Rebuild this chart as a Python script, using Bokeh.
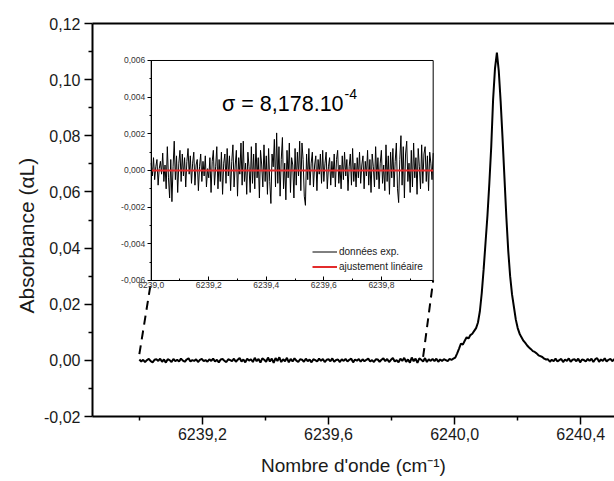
import numpy as np
from bokeh.plotting import figure
from bokeh.models import (Range1d, LinearAxis, FixedTicker, CustomJSTickFormatter,
                          Label, Legend, LegendItem, Title)
from bokeh.embed import file_html
from bokeh.resources import INLINE

# ---------------- data ----------------
# main spectrum: absorbance in units of 1e-5, sampled every 0.006 cm-1 from 6239.0
main_start = 6239.0
main_step = 0.006
absorbance_1e5 = [
    30, -40, 20, -60, 10, 50, -30, -70, 20, 40,
    -20, 60, -50, 30, -80, 40, 10, -60, 50, -30,
    20, -40, 60, -10, -50, 30, 70, -40, 10, -20,
    40, -60, 20, 50, -30, 10, -50, 40, -20, 60,
    -40, 20, -70, 30, 50, -20, -60, 40, 10, -30,
    60, -50, 20, 80, -40, 30, -70, 60, -10, 40,
    -60, 90, -30, 50, -80, 70, 20, -50, 100, -40,
    60, -90, 80, -20, 110, -60, 40, -30, 90, -70,
    50, -40, 70, -10, -60, 40, 20, -50, 60, -30,
    30, -70, 40, 10, -40, 60, -20, 50, -60, 20,
    40, -30, 70, -50, 10, 30, -60, 40, -20, 50,
    -40, 20, 60, -70, 30, -10, 50, -50, 40, -30,
    20, 60, -40, 10, -60, 40, 30, -50, 20, 70,
    -30, 50, -60, 20, 80, -40, 10, -70, 60, -20,
    90, -50, 30, -80, 100, -30, 60, -90, 70, 20,
    -40, 80, -60, 40, -20, 50, -30, 60, -50, 30,
    -20, 40, 10, -30, 50, 20, 60,
    100, 250, 420, 600, 560, 700, 820, 780, 900, 950,
    1050, 1150, 1350, 1750, 2400, 3250, 4200, 5150, 6300, 7600,
    9300, 10400, 10960, 10300, 9200, 7900, 6500, 5100, 3900, 3000,
    2350, 1900, 1450, 1150, 950, 820, 700, 620, 530, 460,
    400, 330, 300, 250, 180, 150, 120, 60, 30,
    40, -50, 20, -30, 60, -40, 10, 50, -60, 30,
    -20, 70, -50, 20, 40, -30, 60, -70, 30, 10,
    -40, 50, -20, 60, -60, 40, 80, -50, 30, -20,
    70, -40, 20, 50, -30, 40, -10,
]

# inset: residual (data - linear fit) in units of 1e-5, every 0.004 cm-1 from 6239.0
resid_start = 6239.0
resid_step = 0.004
residual_1e5 = [
    40, -30, 70, -50, 20, 60, -80, 10, 50, -20,
    95, -60, 30, -100, 130, -40, -150, 60, -170, 20,
    160, -50, 80, -120, 40, 110, -60, 90, -30, 70,
    -90, 50, 120, -20, 80, -70, 40, 100, -80, 30,
    60, -110, 20, 90, -60, 50, -30, 80, -90, 10,
    -40, 70, -120, 50, 110, -80, 20, 130, -100, 60,
    -60, 100, -130, 40, 90, -70, 120, -30, 80, -110,
    50, 140, -90, 30, 110, -140, 70, -20, 150, -80,
    160, -60, 40, -130, 100, 20, -120, 130, -70, 90,
    -100, 150, -40, 70, -150, 110, 30, -90, 140, -60,
    80, -130, 120, -60, -180, 90, 20, 170, -90, 205,
    -70, 130, -140, 60, 180, -100, 40, -160, 110, -40,
    150, -120, 70, 30, -150, 120, -80, 100, -30, 160,
    -110, 150, 60, -140, -190, 90, -50, 120, -80, 40,
    100, -90, 30, 80, -110, 60, -20, 90, -70, 110,
    -60, 40, 100, -100, 20, 70, -80, 50, -40, 90,
    -90, 60, 110, -70, 30, -100, 80, -50, 100, -30,
    60, -110, 20, 90, -80, 120, -60, 40, -90, 70,
    -40, 100, -70, 30, 80, -100, 50, -30, 110, -80,
    60, -120, 90, 20, -90, 130, -50, 70, -100, 40,
    110, -70, 30, -110, 140, -60, 80, -130, 100, -40,
    120, -90, 50, 150, -100, -175, 60, 190, -80, 130,
    -150, 90, 160, -60, 40, -120, 110, -90, 150, -40,
    70, -130, 120, 20, -100, 140, -70, 90, 130, -60,
    80, -110, 100, 40, -50, 95,
]

fit_wn = [6239.0, 6239.98]        # linear fit (ajustement linéaire)
fit_val = [0.0, 0.0]
zoom_wn = [6239.0, 6239.9]        # zoomed region of the main spectrum

main_xticks = [6239.2, 6239.6, 6240.0, 6240.4]
main_xminor = [6239.0, 6239.4, 6239.8, 6240.2]
main_yticks = [-0.02, 0.0, 0.02, 0.04, 0.06, 0.08, 0.10, 0.12]
main_yminor = [-0.01, 0.01, 0.03, 0.05, 0.07, 0.09, 0.11]
inset_xticks = [6239.0, 6239.2, 6239.4, 6239.6, 6239.8]
inset_xminor = [6239.1, 6239.3, 6239.5, 6239.7, 6239.9]
inset_yticks = [-0.006, -0.004, -0.002, 0.0, 0.002, 0.004, 0.006]
inset_yminor = [-0.005, -0.003, -0.001, 0.001, 0.003, 0.005]

x_title = "Nombre d'onde (cm⁻¹)"
y_title = "Absorbance (αL)"
sigma_text = "σ = 8,178.10"
sigma_exp = "-4"

# ---------------- layout constants ----------------
MAIN_X = (6238.8514, 6240.507)
MAIN_Y = (-0.02, 0.12)
INSET_X = (6239.0, 6239.98)
INSET_Y = (-0.006, 0.006)
# inset frame corners expressed in main-plot coordinates
BOX_L, BOX_R, BOX_B, BOX_T = 6239.0376, 6239.9319, 0.02845, 0.10682
ZOOM_Y0 = [0.0022, 0.0012]

x_main = np.round(main_start + main_step * np.arange(len(absorbance_1e5)), 4)
y_main = np.array(absorbance_1e5) * 1e-5
x_res = np.round(resid_start + resid_step * np.arange(len(residual_1e5)), 4)
y_res = np.array(residual_1e5) * 1e-5

kx = (INSET_X[1] - INSET_X[0]) / (BOX_R - BOX_L)
ky = (INSET_Y[1] - INSET_Y[0]) / (BOX_T - BOX_B)
ix_range = Range1d(INSET_X[0] + (MAIN_X[0] - BOX_L) * kx, INSET_X[0] + (MAIN_X[1] - BOX_L) * kx)
iy_range = Range1d(INSET_Y[0] + (MAIN_Y[0] - BOX_B) * ky, INSET_Y[0] + (MAIN_Y[1] - BOX_B) * ky)

FONT = "Liberation Sans"
TXT = "#1a1a1a"

p = figure(width=614, height=481, output_backend="svg", toolbar_location=None,
           x_range=Range1d(*MAIN_X), y_range=Range1d(*MAIN_Y),
           min_border_left=92, min_border_right=0, min_border_top=23, min_border_bottom=65,
           x_axis_label=x_title)
p.extra_x_ranges = {"ix": ix_range}
p.extra_y_ranges = {"iy": iy_range}
p.outline_line_color = None
p.grid.visible = False
p.background_fill_color = "white"
p.border_fill_color = "white"

fmt1 = CustomJSTickFormatter(code="return tick.toFixed(1).replace('.', ',');")
fmt2 = CustomJSTickFormatter(code="var v = Math.abs(tick) < 1e-9 ? 0 : tick; return v.toFixed(2).replace('.', ',');")
fmt3 = CustomJSTickFormatter(code="var v = Math.abs(tick) < 1e-9 ? 0 : tick; return v.toFixed(3).replace('.', ',');")

xa = p.xaxis[0]
ya = p.yaxis[0]
xa.ticker = FixedTicker(ticks=main_xticks, minor_ticks=main_xminor)
ya.ticker = FixedTicker(ticks=main_yticks, minor_ticks=main_yminor)
xa.formatter = fmt1
ya.formatter = fmt2
for ax in (xa, ya):
    ax.axis_line_width = 2
    ax.axis_line_color = "black"
    ax.major_tick_line_width = 1.5
    ax.minor_tick_line_width = 1.5
    ax.major_tick_out = 8
    ax.major_tick_in = 0
    ax.minor_tick_out = 4
    ax.minor_tick_in = 0
    ax.major_label_text_font = FONT
    ax.major_label_text_font_size = "16px"
    ax.major_label_text_color = TXT
    ax.axis_label_text_font = FONT
    ax.axis_label_text_font_style = "normal"
    ax.axis_label_text_color = TXT
xa.axis_label_text_font_size = "19px"
xa.major_label_standoff = 3
xa.axis_label_standoff = 12
ya.major_label_standoff = 4

top = LinearAxis(ticker=FixedTicker(ticks=[]), axis_line_width=2, axis_line_color="black",
                 major_tick_out=0, major_tick_in=0, minor_tick_out=0, minor_tick_in=0)
p.add_layout(top, "above")

# y-axis title, placed a little below the frame centre as in the original
p.add_layout(Title(text=y_title, align="left", offset=103, vertical_align="middle",
                   standoff=6, text_font=FONT, text_font_size="21px",
                   text_font_style="normal", text_color=TXT), "left")

# main spectrum
p.line(x_main, y_main, line_color="black", line_width=2)

# dashed connectors from zoom region to inset corners
p.segment(x0=zoom_wn, y0=ZOOM_Y0, x1=[BOX_L, BOX_R], y1=[BOX_B, BOX_B],
          line_color="black", line_width=2, line_dash="9 6")

# inset frame
p.quad(left=[INSET_X[0]], right=[INSET_X[1]], bottom=[INSET_Y[0]], top=[INSET_Y[1]],
       x_range_name="ix", y_range_name="iy",
       fill_color="white", line_color="black", line_width=1)

r_data = p.line(x_res, y_res, x_range_name="ix", y_range_name="iy",
                line_color="black", line_width=1)
r_fit = p.line(fit_wn, fit_val, x_range_name="ix", y_range_name="iy",
               line_color="#e32b2b", line_width=2)

ixa = LinearAxis(x_range_name="ix", y_range_name="iy", fixed_location=INSET_Y[0],
                 bounds=INSET_X, ticker=FixedTicker(ticks=inset_xticks, minor_ticks=inset_xminor),
                 formatter=fmt1)
iya = LinearAxis(x_range_name="ix", y_range_name="iy", fixed_location=INSET_X[0],
                 bounds=INSET_Y, ticker=FixedTicker(ticks=inset_yticks, minor_ticks=inset_yminor),
                 formatter=fmt3)
for ax in (ixa, iya):
    ax.axis_line_color = "black"
    ax.axis_line_width = 1
    ax.major_label_text_font = FONT
    ax.major_label_text_font_size = "8.5px"
    ax.major_label_text_color = "#333333"
    ax.major_label_standoff = 2
ixa.major_tick_in = 4
ixa.major_tick_out = 0
ixa.minor_tick_in = 2
ixa.minor_tick_out = 0
iya.major_tick_in = 0
iya.major_tick_out = 4
iya.minor_tick_in = 0
iya.minor_tick_out = 2
p.add_layout(ixa, "below")
p.add_layout(iya, "left")

legend = Legend(items=[LegendItem(label="données exp.", renderers=[r_data]),
                       LegendItem(label="ajustement linéaire", renderers=[r_fit])],
                location=(220, 142), padding=0, margin=0, spacing=0,
                border_line_color=None, background_fill_alpha=0,
                glyph_width=25, glyph_height=15, label_height=15, label_standoff=2,
                label_text_font=FONT, label_text_font_size="10px", label_text_color="#222222")
p.add_layout(legend, "center")

p.add_layout(Label(x=6239.2464, y=0.0036, x_range_name="ix", y_range_name="iy",
                   text=sigma_text, text_font=FONT, text_font_size="21.5px",
                   text_color="black", text_baseline="alphabetic"))
p.add_layout(Label(x=6239.6717, y=0.00418, x_range_name="ix", y_range_name="iy",
                   text=sigma_exp, text_font=FONT, text_font_size="14px",
                   text_color="black", text_baseline="alphabetic"))

open("out.html", "w").write(file_html(p, INLINE))
